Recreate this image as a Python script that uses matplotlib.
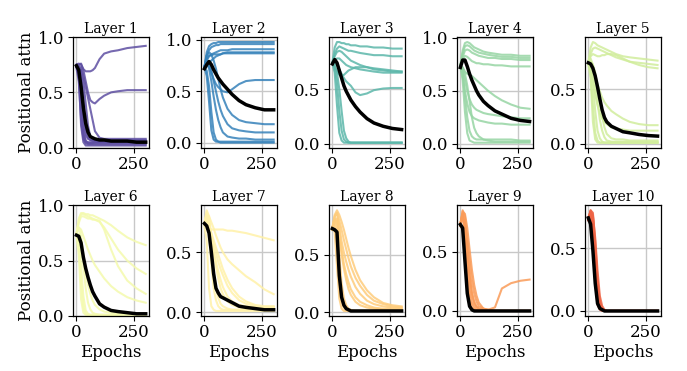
import numpy as np
import matplotlib
matplotlib.use("Agg")
import matplotlib.pyplot as plt
from matplotlib.ticker import MultipleLocator

plt.rcParams['font.family'] = ['DejaVu Serif']

epochs = [0, 10, 20, 30, 40, 50, 60, 70, 80, 100, 120, 150, 180, 220, 260, 300]
layer_titles = ["Layer 1", "Layer 2", "Layer 3", "Layer 4", "Layer 5",
                "Layer 6", "Layer 7", "Layer 8", "Layer 9", "Layer 10"]
x_label = "Epochs"
y_label = "Positional attn"
x_ticks = [0, 250]

layer1_heads = [
    [.75, .76, .75, .71, .69, .69, .69, .70, .72, .80, .85, .87, .88, .90, .91, .92],
    [.74, .75, .76, .70, .60, .50, .43, .41, .40, .44, .47, .50, .51, .52, .52, .52],
    [.74, .73, .70, .60, .40, .20, .10, .08, .07, .07, .07, .07, .07, .07, .07, .07],
    [.74, .72, .60, .30, .12, .08, .07, .07, .07, .07, .07, .06, .06, .06, .06, .06],
    [.73, .70, .40, .12, .06, .05, .05, .05, .05, .05, .05, .05, .05, .05, .05, .05],
    [.75, .74, .72, .65, .55, .45, .35, .25, .15, .09, .08, .08, .08, .08, .08, .08],
    [.72, .60, .25, .08, .04, .03, .03, .03, .03, .03, .03, .03, .03, .03, .03, .03],
    [.74, .68, .35, .10, .05, .04, .04, .04, .04, .04, .04, .04, .04, .04, .04, .04],
    [.73, .72, .55, .20, .06, .04, .04, .04, .05, .05, .05, .05, .05, .05, .05, .05],
    [.74, .65, .20, .05, .02, .02, .02, .02, .02, .02, .02, .02, .02, .02, .02, .02],
    [.75, .73, .68, .45, .18, .09, .07, .06, .06, .06, .06, .06, .06, .06, .06, .06],
]
layer1_mean = [.74, .70, .55, .36, .22, .14, .10, .09, .08, .07, .07, .06, .06, .06, .05, .05]

layer2_heads = [
    [.73, .88, .94, .96, .97, .97, .98, .98, .98, .98, .98, .98, .98, .98, .98, .98],
    [.74, .85, .90, .93, .94, .95, .95, .96, .96, .96, .96, .96, .96, .96, .96, .96],
    [.73, .80, .84, .86, .87, .88, .89, .90, .90, .90, .91, .91, .91, .91, .91, .91],
    [.72, .76, .78, .80, .82, .84, .85, .86, .87, .88, .88, .88, .88, .88, .88, .88],
    [.74, .82, .85, .85, .86, .86, .86, .86, .87, .87, .87, .87, .87, .87, .87, .87],
    [.74, .76, .74, .68, .62, .57, .54, .52, .50, .49, .52, .57, .60, .61, .61, .61],
    [.73, .85, .88, .86, .80, .72, .62, .52, .44, .33, .27, .22, .20, .19, .18, .18],
    [.74, .80, .78, .70, .60, .50, .40, .32, .26, .18, .14, .12, .11, .10, .10, .10],
    [.74, .78, .72, .60, .45, .32, .22, .15, .10, .06, .05, .04, .04, .03, .03, .03],
    [.73, .65, .40, .12, .03, .01, .01, .01, .01, .01, .01, .01, .01, .01, .01, .01],
    [.74, .70, .55, .30, .10, .03, .01, .00, .00, .00, .00, .00, .00, .00, .00, .00],
]
layer2_mean = [.72, .76, .79, .76, .71, .67, .63, .60, .57, .52, .47, .41, .37, .34, .32, .32]

layer3_heads = [
    [.74, .88, .93, .93, .92, .92, .91, .91, .90, .90, .89, .89, .88, .88, .87, .87],
    [.73, .82, .87, .89, .88, .87, .86, .85, .85, .84, .83, .82, .81, .81, .80, .80],
    [.74, .80, .84, .85, .84, .82, .80, .78, .76, .74, .72, .70, .68, .67, .66, .66],
    [.73, .76, .78, .78, .76, .74, .72, .71, .70, .69, .68, .67, .66, .65, .65, .65],
    [.74, .70, .66, .63, .62, .63, .65, .67, .68, .70, .70, .70, .69, .68, .67, .66],
    [.74, .74, .72, .68, .64, .60, .57, .55, .53, .47, .445, .46, .49, .505, .51, .51],
    [.74, .65, .35, .10, .03, .01, .01, .01, .01, .01, .01, .01, .01, .01, .01, .01],
    [.73, .70, .55, .30, .12, .04, .02, .01, .01, .01, .01, .01, .01, .01, .01, .01],
    [.74, .72, .65, .50, .30, .12, .05, .02, .01, .01, .01, .01, .01, .01, .01, .01],
]
layer3_mean = [.73, .77, .74, .67, .60, .53, .48, .44, .40, .34, .29, .23, .19, .16, .14, .13]

layer4_heads = [
    [.74, .88, .95, .96, .95, .93, .91, .90, .89, .87, .86, .85, .84, .84, .83, .83],
    [.73, .85, .92, .93, .92, .90, .88, .87, .86, .85, .84, .83, .82, .82, .81, .81],
    [.74, .82, .88, .89, .88, .86, .85, .84, .83, .82, .81, .81, .80, .80, .79, .79],
    [.73, .80, .83, .82, .80, .78, .77, .76, .76, .75, .75, .74, .74, .73, .73, .73],
    [.74, .72, .68, .66, .65, .64, .62, .60, .58, .54, .50, .45, .41, .37, .34, .33],
    [.74, .70, .60, .50, .42, .37, .34, .32, .31, .29, .28, .27, .26, .25, .24, .24],
    [.73, .65, .50, .38, .30, .26, .24, .23, .22, .21, .20, .19, .19, .18, .18, .18],
    [.74, .68, .45, .25, .12, .07, .05, .04, .04, .04, .04, .04, .04, .04, .03, .03],
    [.73, .60, .30, .10, .03, .02, .01, .01, .01, .01, .01, .01, .01, .01, .01, .01],
    [.74, .72, .66, .55, .40, .25, .15, .10, .07, .04, .03, .02, .02, .02, .02, .02],
]
layer4_mean = [.72, .79, .79, .73, .66, .60, .55, .50, .46, .40, .36, .31, .28, .24, .22, .21]

layer5_heads = [
    [.74, .88, .93, .92, .90, .89, .88, .87, .86, .84, .82, .80, .79, .78, .77, .76],
    [.73, .82, .87, .88, .87, .86, .85, .84, .83, .81, .79, .77, .75, .74, .73, .72],
    [.74, .80, .82, .81, .80, .80, .81, .81, .82, .82, .81, .78, .75, .72, .70, .69],
    [.74, .78, .72, .62, .54, .48, .42, .38, .35, .30, .27, .23, .20, .18, .17, .17],
    [.73, .70, .60, .45, .35, .28, .23, .20, .18, .15, .14, .13, .12, .12, .12, .12],
    [.74, .65, .35, .10, .03, .01, .01, .01, .01, .01, .01, .01, .01, .01, .01, .01],
    [.73, .72, .55, .30, .12, .05, .02, .01, .01, .01, .01, .01, .01, .01, .01, .01],
    [.74, .74, .68, .55, .38, .22, .12, .06, .03, .02, .02, .02, .02, .02, .02, .02],
    [.73, .60, .20, .04, .01, .01, .01, .01, .01, .01, .01, .01, .01, .01, .01, .01],
    [.74, .75, .72, .65, .52, .38, .25, .15, .09, .05, .04, .04, .03, .03, .03, .03],
]
layer5_mean = [.74, .73, .69, .62, .52, .41, .31, .24, .20, .16, .14, .11, .10, .085, .075, .07]

layer6_heads = [
    [.74, .88, .93, .93, .92, .92, .91, .91, .90, .88, .86, .82, .77, .71, .67, .64],
    [.74, .86, .92, .92, .91, .90, .89, .88, .87, .85, .80, .70, .60, .50, .43, .38],
    [.74, .84, .90, .90, .89, .88, .88, .87, .87, .86, .78, .60, .45, .32, .25, .20],
    [.74, .80, .78, .72, .66, .60, .55, .50, .46, .40, .34, .27, .22, .17, .14, .12],
    [.74, .80, .72, .55, .40, .28, .20, .14, .10, .06, .04, .03, .02, .02, .02, .02],
    [.73, .65, .30, .08, .02, .01, .01, .01, .01, .01, .01, .01, .01, .01, .01, .01],
    [.74, .70, .45, .18, .05, .02, .01, .01, .01, .01, .01, .01, .01, .01, .01, .01],
    [.74, .74, .65, .45, .25, .12, .06, .03, .02, .01, .01, .01, .01, .01, .01, .01],
    [.72, .55, .15, .03, .01, .01, .01, .01, .01, .01, .01, .01, .01, .01, .01, .01],
]
layer6_mean = [.73, .72, .66, .53, .43, .35, .28, .22, .18, .11, .08, .05, .04, .03, .02, .02]

layer7_heads = [
    [.74, .71, .70, .69, .69, .69, .69, .69, .69, .68, .68, .67, .66, .64, .62, .60],
    [.74, .82, .80, .75, .70, .64, .59, .54, .50, .44, .40, .35, .30, .25, .19, .15],
    [.74, .85, .80, .65, .50, .38, .28, .20, .15, .09, .06, .04, .03, .03, .03, .03],
    [.73, .84, .75, .55, .35, .20, .12, .07, .05, .03, .02, .02, .02, .02, .02, .02],
    [.74, .82, .65, .40, .20, .10, .05, .03, .02, .02, .02, .02, .02, .02, .02, .02],
    [.72, .60, .20, .05, .02, .01, .01, .01, .01, .01, .01, .01, .01, .01, .01, .01],
    [.74, .78, .70, .60, .50, .42, .34, .27, .21, .13, .09, .06, .05, .04, .04, .04],
    [.73, .75, .72, .66, .60, .54, .48, .42, .36, .27, .20, .13, .09, .06, .05, .05],
    [.74, .80, .74, .64, .56, .49, .42, .36, .31, .22, .16, .10, .07, .05, .04, .04],
]
layer7_mean = [.74, .72, .66, .50, .32, .20, .16, .13, .12, .10, .08, .05, .04, .03, .02, .02]

layer8_heads = [
    [.72, .85, .89, .85, .79, .72, .64, .56, .49, .37, .28, .19, .13, .08, .06, .05],
    [.73, .83, .87, .80, .72, .63, .55, .47, .40, .30, .23, .15, .10, .07, .05, .04],
    [.74, .84, .86, .75, .62, .52, .44, .37, .31, .22, .16, .10, .07, .05, .04, .04],
    [.72, .80, .80, .65, .50, .38, .28, .20, .15, .09, .06, .04, .03, .02, .02, .02],
    [.74, .82, .75, .50, .25, .12, .06, .03, .02, .01, .01, .01, .01, .01, .01, .01],
    [.73, .78, .60, .30, .10, .04, .02, .01, .01, .01, .01, .01, .01, .01, .01, .01],
    [.74, .70, .40, .12, .03, .01, .01, .01, .01, .01, .01, .01, .01, .01, .01, .01],
    [.72, .80, .82, .70, .55, .42, .33, .26, .20, .13, .09, .06, .04, .03, .03, .03],
]
layer8_mean = [.73, .72, .70, .32, .13, .06, .03, .02, .01, .01, .01, .01, .01, .01, .01, .01]

layer9_heads = [
    [.72, .85, .80, .55, .30, .14, .06, .03, .02, .01, .00, .00, .00, .00, .00, .00],
    [.73, .82, .70, .40, .18, .07, .03, .01, .01, .00, .00, .00, .00, .00, .00, .00],
    [.74, .80, .65, .30, .10, .03, .01, .01, .00, .00, .00, .00, .00, .00, .00, .00],
    [.72, .78, .75, .60, .42, .26, .15, .08, .04, .02, .01, .00, .00, .00, .00, .00],
    [.73, .70, .45, .15, .04, .01, .01, .00, .00, .00, .00, .00, .00, .00, .00, .00],
    [.74, .82, .72, .50, .30, .16, .08, .04, .02, .01, .01, .03, .19, .235, .255, .265],
    [.73, .84, .82, .70, .52, .35, .22, .13, .07, .02, .01, .00, .00, .00, .00, .00],
]
layer9_mean = [.73, .70, .42, .15, .04, .01, .00, .00, .00, .00, .00, .00, .00, .00, .00, .00]

layer10_heads = [
    [.73, .80, .78, .55, .25, .08, .02, .01, .00, .00, .00, .00, .00, .00, .00, .00],
    [.74, .78, .70, .40, .15, .04, .01, .00, .00, .00, .00, .00, .00, .00, .00, .00],
    [.72, .75, .60, .30, .08, .02, .01, .00, .00, .00, .00, .00, .00, .00, .00, .00],
    [.73, .79, .75, .50, .20, .06, .02, .00, .00, .00, .00, .00, .00, .00, .00, .00],
    [.74, .77, .65, .35, .10, .03, .01, .00, .00, .00, .00, .00, .00, .00, .00, .00],
    [.72, .80, .76, .58, .32, .12, .04, .01, .00, .00, .00, .00, .00, .00, .00, .00],
    [.73, .76, .55, .22, .05, .01, .00, .00, .00, .00, .00, .00, .00, .00, .00, .00],
    [.74, .79, .72, .45, .18, .05, .02, .00, .00, .00, .00, .00, .00, .00, .00, .00],
]
layer10_mean = [.74, .69, .48, .22, .06, .02, .01, .00, .00, .00, .00, .00, .00, .00, .00, .00]

all_heads = [layer1_heads, layer2_heads, layer3_heads, layer4_heads, layer5_heads,
             layer6_heads, layer7_heads, layer8_heads, layer9_heads, layer10_heads]
all_means = [layer1_mean, layer2_mean, layer3_mean, layer4_mean, layer5_mean,
             layer6_mean, layer7_mean, layer8_mean, layer9_mean, layer10_mean]
fixed_ylim_layers = [0, 5]

colors = plt.cm.Spectral_r(np.linspace(0, 0.82, 10))

fig, axes = plt.subplots(2, 5, figsize=(6.87, 3.71), dpi=100)
fig.subplots_adjust(left=73/687, right=661/687, top=1-37/371, bottom=1-316/371,
                    wspace=0.68, hspace=0.52)

for i, ax in enumerate(axes.flat):
    for h in all_heads[i]:
        ax.plot(epochs, h, color=colors[i], lw=1.5, alpha=0.85)
    ax.plot(epochs, all_means[i], color='black', lw=2.5)
    ax.set_title(layer_titles[i], fontsize=10, pad=3)
    ax.set_xticks(x_ticks)
    ax.yaxis.set_major_locator(MultipleLocator(0.5))
    if i in fixed_ylim_layers:
        ax.set_ylim(0, 1.0)
    ax.grid(True, color='#c8c8c8', lw=1.0)
    ax.tick_params(labelsize=12, pad=2.5)
    for s in ax.spines.values():
        s.set_linewidth(0.9)
    if i % 5 == 0:
        ax.set_ylabel(y_label, fontsize=12, labelpad=2)
    if i >= 5:
        ax.set_xlabel(x_label, fontsize=12, labelpad=2)

fig.savefig("out.png", dpi=100)
